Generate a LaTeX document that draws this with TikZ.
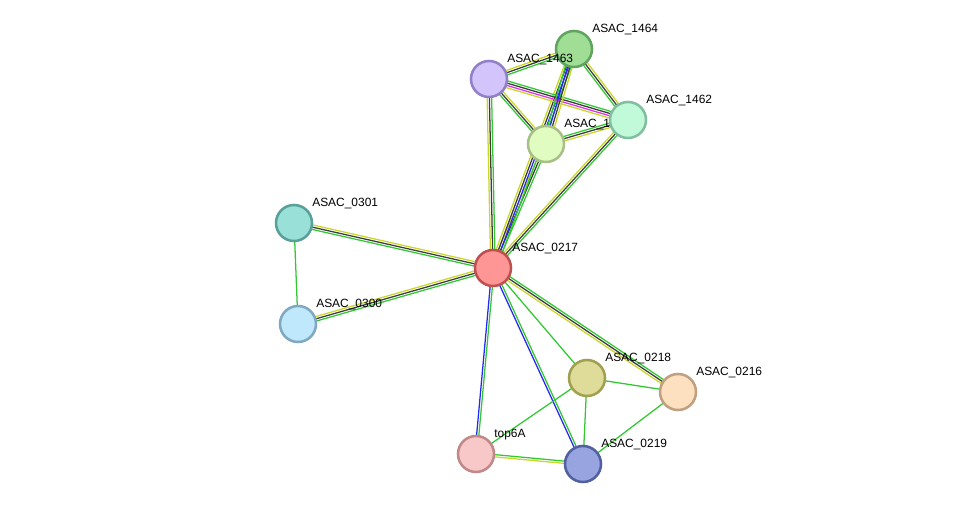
\documentclass[tikz,border=0pt]{standalone}
\usepackage{fontspec}
\setmainfont{Liberation Sans}
\usetikzlibrary{calc}
\pgfdeclarelayer{edges}
\pgfdeclarelayer{discs}
\pgfsetlayers{edges,main,discs}

\definecolor{evgreen}{RGB}{50,200,50}
\definecolor{evblue}{RGB}{40,40,245}
\definecolor{evdark}{RGB}{60,60,60}
\definecolor{evyellow}{RGB}{200,215,40}
\definecolor{evpink}{RGB}{225,50,225}

\tikzset{
  prot/.style={circle, draw, line width=1.8pt, minimum size=0.9cm, inner sep=0pt},
  lbl/.style={anchor=base west, font=\fontsize{8.5}{10}\selectfont, inner sep=0pt},
  ev/.style={line width=0.9pt}
}

% parallel evidence lines between two proteins
\newcommand{\evlink}[3]{%
  \foreach \off/\col in {#3}
    \draw[ev, color=\col] ($(#1)!\off!90:(#2)$) -- ($(#2)!\off!-90:(#1)$);}

\begin{document}
\begin{tikzpicture}[x=0.025cm, y=-0.025cm]
 				\useasboundingbox (0,0) rectangle (976,510);
				\begin{pgfonlayer}{discs}
				\node[prot, fill={rgb,255:red,255;green,150;blue,150}, draw={rgb,255:red,190;green,80;blue,80}] (p0217) at (493,268) {};
				\node[prot, fill={rgb,255:red,160;green,222;blue,150}, draw={rgb,255:red,95;green,165;blue,95}] (p1464) at (574,49) {};
				\node[prot, fill={rgb,255:red,212;green,196;blue,252}, draw={rgb,255:red,145;green,128;blue,200}] (p1463) at (489,79) {};
				\node[prot, fill={rgb,255:red,192;green,250;blue,216}, draw={rgb,255:red,128;green,192;blue,160}] (p1462) at (628,120) {};
				\node[prot, fill={rgb,255:red,224;green,252;blue,192}, draw={rgb,255:red,168;green,192;blue,136}] (p1461) at (546,144) {};
				\node[prot, fill={rgb,255:red,152;green,224;blue,216}, draw={rgb,255:red,88;green,160;blue,152}] (p0301) at (294,223) {};
				\node[prot, fill={rgb,255:red,192;green,232;blue,252}, draw={rgb,255:red,128;green,168;blue,192}] (p0300) at (298,324) {};
				\node[prot, fill={rgb,255:red,222;green,220;blue,152}, draw={rgb,255:red,160;green,160;blue,80}] (p0218) at (587,378) {};
				\node[prot, fill={rgb,255:red,253;green,224;blue,192}, draw={rgb,255:red,192;green,160;blue,128}] (p0216) at (678,392) {};
				\node[prot, fill={rgb,255:red,248;green,200;blue,200}, draw={rgb,255:red,192;green,136;blue,136}] (ptop) at (476,454) {};
				\node[prot, fill={rgb,255:red,152;green,164;blue,224}, draw={rgb,255:red,80;green,96;blue,160}] (p0219) at (583,464) {};
				% this one lies over ASAC_1464
				\node[lbl] (l1463) at ([shift={(18,-16)}]p1463.center) {ASAC\_1463};
				\end{pgfonlayer}
				% labels
				\node[lbl] (l0217) at ([shift={(19,-16)}]p0217.center) {ASAC\_0217};
				\node[lbl] (l1464) at ([shift={(18,-16)}]p1464.center) {ASAC\_1464};
				\node[lbl] (l1462) at ([shift={(18,-16)}]p1462.center) {ASAC\_1462};
				\node[lbl] (l1461) at ([shift={(18,-16)}]p1461.center) {ASAC\_1461};
				\node[lbl] (l0301) at ([shift={(18,-16)}]p0301.center) {ASAC\_0301};
				\node[lbl] (l0300) at ([shift={(18,-16)}]p0300.center) {ASAC\_0300};
				\node[lbl] (l0218) at ([shift={(18,-16)}]p0218.center) {ASAC\_0218};
				\node[lbl] (l0216) at ([shift={(18,-16)}]p0216.center) {ASAC\_0216};
				\node[lbl] (ltop) at ([shift={(18,-16)}]ptop.center) {top6A};
				\node[lbl] (l0219) at ([shift={(18,-16)}]p0219.center) {ASAC\_0219};
				% evidence lines
				\begin{pgfonlayer}{edges}
				\evlink{p0217}{p0301}{-1.6pt/evyellow,0pt/evdark,1.6pt/evgreen}
				\evlink{p0217}{p0300}{-1.6pt/evyellow,0pt/evdark,1.6pt/evgreen}
				\evlink{p0301}{p0300}{0pt/evgreen}
				\evlink{p0217}{p1463}{-1.6pt/evgreen,0pt/evdark,1.6pt/evyellow}
				\evlink{p0217}{p1461}{-1.6pt/evgreen,0pt/evdark,1.6pt/evyellow}
				\evlink{p0217}{p1464}{-2.4pt/evgreen,-0.8pt/evblue,0.8pt/evdark,2.4pt/evyellow}
				\evlink{p0217}{p1462}{-1.6pt/evgreen,0pt/evdark,1.6pt/evyellow}
				\evlink{p0217}{p0218}{0pt/evgreen}
				\evlink{p0217}{p0216}{-1.6pt/evyellow,0pt/evdark,1.6pt/evgreen}
				\evlink{p0217}{ptop}{-0.8pt/evblue,0.8pt/evgreen}
				\evlink{p0217}{p0219}{-0.8pt/evblue,0.8pt/evgreen}
				\evlink{p0218}{p0216}{0pt/evgreen}
				\evlink{p0218}{ptop}{0pt/evgreen}
				\evlink{p0218}{p0219}{0pt/evgreen}
				\evlink{p0216}{p0219}{0pt/evgreen}
				\evlink{ptop}{p0219}{-0.8pt/evyellow,0.8pt/evgreen}
				\evlink{p1463}{p1464}{-1.6pt/evgreen,0pt/evdark,1.6pt/evyellow}
				\evlink{p1463}{p1462}{-2.4pt/evyellow,-0.8pt/evpink,0.8pt/evdark,2.4pt/evgreen}
				\evlink{p1463}{p1461}{-1.6pt/evgreen,0pt/evdark,1.6pt/evyellow}
				\evlink{p1464}{p1461}{-2.4pt/evgreen,-0.8pt/evblue,0.8pt/evdark,2.4pt/evyellow}
				\evlink{p1464}{p1462}{-1.6pt/evgreen,0pt/evdark,1.6pt/evyellow}
				\evlink{p1461}{p1462}{-1.6pt/evyellow,0pt/evdark,1.6pt/evgreen}
				\end{pgfonlayer}
			\end{tikzpicture}
\end{document}
